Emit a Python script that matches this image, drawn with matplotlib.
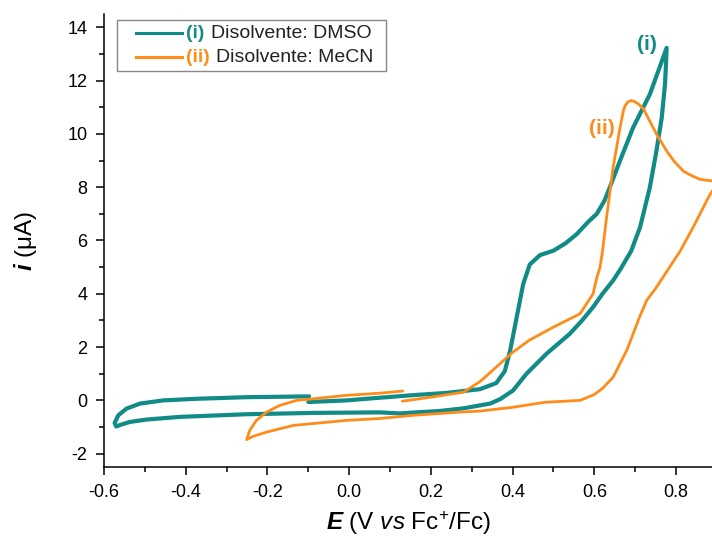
import matplotlib
matplotlib.use('Agg')
import matplotlib.pyplot as plt
from matplotlib.lines import Line2D
from matplotlib.offsetbox import AnchoredOffsetbox, HPacker, VPacker, TextArea, DrawingArea
from matplotlib.ticker import MultipleLocator

plt.rcParams['font.family'] = ['Liberation Sans', 'DejaVu Sans']
plt.rcParams['axes.unicode_minus'] = False
plt.rcParams['mathtext.fontset'] = 'custom'
plt.rcParams['mathtext.rm'] = 'Liberation Sans'
plt.rcParams['mathtext.it'] = 'Liberation Sans:italic'
plt.rcParams['mathtext.bf'] = 'Liberation Sans:bold'
plt.rcParams['mathtext.bfit'] = 'Liberation Sans:bold:italic'

# CV in DMSO (starts at -0.1 V, scans positive first)
dmso_E = [-0.100, -0.006, 0.075, 0.160, 0.238, 0.320, 0.360, 0.381, 0.394, 0.410, 0.426,
          0.442, 0.467, 0.500, 0.530, 0.557, 0.585, 0.606, 0.625, 0.638, 0.663, 0.695,
          0.736, 0.777,
          0.775, 0.773, 0.765, 0.752, 0.736, 0.712, 0.690, 0.665, 0.646, 0.620, 0.597,
          0.570, 0.540, 0.483, 0.434, 0.401, 0.370, 0.345, 0.279, 0.220, 0.173, 0.124,
          0.075, -0.088, -0.251, -0.415, -0.496, -0.537, -0.560, -0.570,
          -0.574, -0.565, -0.545, -0.512, -0.455, -0.374, -0.251, -0.098]
dmso_I = [-0.06, 0.00, 0.10, 0.20, 0.28, 0.42, 0.65, 1.10, 1.87, 3.12, 4.37,
          5.10, 5.45, 5.62, 5.90, 6.24, 6.70, 7.00, 7.50, 8.00, 9.00, 10.24,
          11.49, 13.23,
          12.50, 11.86, 10.61, 9.36, 8.00, 6.50, 5.60, 4.95, 4.50, 4.00, 3.50,
          3.00, 2.50, 1.75, 1.00, 0.37, 0.05, -0.12, -0.30, -0.40, -0.44, -0.49,
          -0.45, -0.47, -0.52, -0.62, -0.72, -0.81, -0.92, -0.98,
          -0.85, -0.56, -0.31, -0.12, 0.00, 0.06, 0.12, 0.15]

# CV in MeCN (starts at 0.13 V, scans positive first)
mecn_E = [0.130, 0.200, 0.280, 0.320, 0.360, 0.400, 0.440, 0.500, 0.565, 0.597, 0.606,
          0.614, 0.620, 0.630, 0.646, 0.663, 0.671, 0.675, 0.682, 0.690, 0.698, 0.708,
          0.720, 0.735, 0.752, 0.777, 0.795, 0.818, 0.840, 0.858, 0.875, 0.888, 0.900,
          0.884, 0.875, 0.842, 0.810, 0.780, 0.750, 0.728, 0.710, 0.680, 0.646, 0.620,
          0.600, 0.565, 0.480, 0.400, 0.320, 0.271, 0.157, 0.075, -0.006, -0.137,
          -0.202, -0.235, -0.251,
          -0.243, -0.227, -0.202, -0.170, -0.129, -0.088, -0.006, 0.075, 0.131]
mecn_I = [-0.03, 0.12, 0.31, 0.70, 1.25, 1.80, 2.25, 2.75, 3.25, 4.00, 4.60,
          5.00, 5.60, 6.87, 8.74, 10.24, 10.86, 11.05, 11.20, 11.25, 11.22, 11.12,
          10.95, 10.50, 10.00, 9.36, 8.98, 8.60, 8.42, 8.30, 8.26, 8.24, 8.10,
          7.75, 7.49, 6.50, 5.60, 4.90, 4.20, 3.75, 3.10, 1.90, 0.87, 0.45,
          0.22, 0.00, -0.07, -0.26, -0.40, -0.44, -0.56, -0.68, -0.75, -0.94,
          -1.19, -1.35, -1.47,
          -1.12, -0.75, -0.44, -0.19, 0.00, 0.06, 0.19, 0.27, 0.35]

teal = '#108B87'
orange = '#FF8C1A'

fig = plt.figure(figsize=(7.12, 5.41), dpi=100)
ax = fig.add_axes([104/712, 74/541, 608/712, 453/541])

ax.plot(dmso_E, dmso_I, color=teal, lw=3.0, solid_capstyle='round', solid_joinstyle='round')
ax.plot(mecn_E, mecn_I, color=orange, lw=2.0, solid_capstyle='round', solid_joinstyle='round')

ax.set_xlim(-0.6, 0.888)
ax.set_ylim(-2.5, 14.5)
ax.xaxis.set_major_locator(MultipleLocator(0.2))
ax.xaxis.set_minor_locator(MultipleLocator(0.1))
ax.yaxis.set_major_locator(MultipleLocator(2))
ax.yaxis.set_minor_locator(MultipleLocator(1))
ax.xaxis.set_major_formatter(plt.FuncFormatter(lambda v, p: f'{v:.1f}'))

for s in ['top', 'right']:
    ax.spines[s].set_visible(False)
for s in ['left', 'bottom']:
    ax.spines[s].set_linewidth(1.1)
ax.tick_params(which='major', direction='out', length=6, width=1.1, labelsize=13, pad=6)
ax.tick_params(which='minor', direction='out', length=3.5, width=1.1)

ax.set_xlabel(r'$\mathbfit{E}$ (V $\mathit{vs}$ Fc$^{+}$/Fc)', fontsize=17.5, labelpad=6)
ax.set_ylabel(r'$\mathbfit{i}$ (μA)', fontsize=17.5, labelpad=20)

ax.text(0.729, 13.35, '(i)', color=teal, fontsize=15, fontweight='bold', ha='center', va='center')
ax.text(0.619, 10.2, '(ii)', color=orange, fontsize=15, fontweight='bold', ha='center', va='center')

# legend with coloured tags
def legend_row(color, tag, label):
    lead = DrawingArea(7, 10, 0, 0)
    da = DrawingArea(33, 10, 0, 0)
    da.add_artist(Line2D([0, 33], [5, 5], color=color, lw=2.2))
    t1 = TextArea(tag, textprops=dict(color=color, fontweight='bold', size=14))
    t2 = TextArea(label, textprops=dict(color='#222222', size=14))
    words = HPacker(children=[t1, t2], align='baseline', pad=0, sep=5)
    tail = DrawingArea(2, 10, 0, 0)
    return HPacker(children=[lead, da, words, tail], align='center', pad=0, sep=3)

rows = VPacker(children=[legend_row(teal, '(i)', 'Disolvente: DMSO'),
                         legend_row(orange, '(ii)', 'Disolvente: MeCN')],
               align='left', pad=0, sep=5)
leg = AnchoredOffsetbox(loc='upper left', child=rows, pad=0.35, borderpad=0, frameon=True,
                        bbox_to_anchor=(117/712, 1 - 20/541), bbox_transform=fig.transFigure)
leg.patch.set_edgecolor('#888888')
leg.patch.set_linewidth(1.0)
leg.patch.set_boxstyle('square,pad=0')
ax.add_artist(leg)

fig.savefig('out.png', dpi=100)
